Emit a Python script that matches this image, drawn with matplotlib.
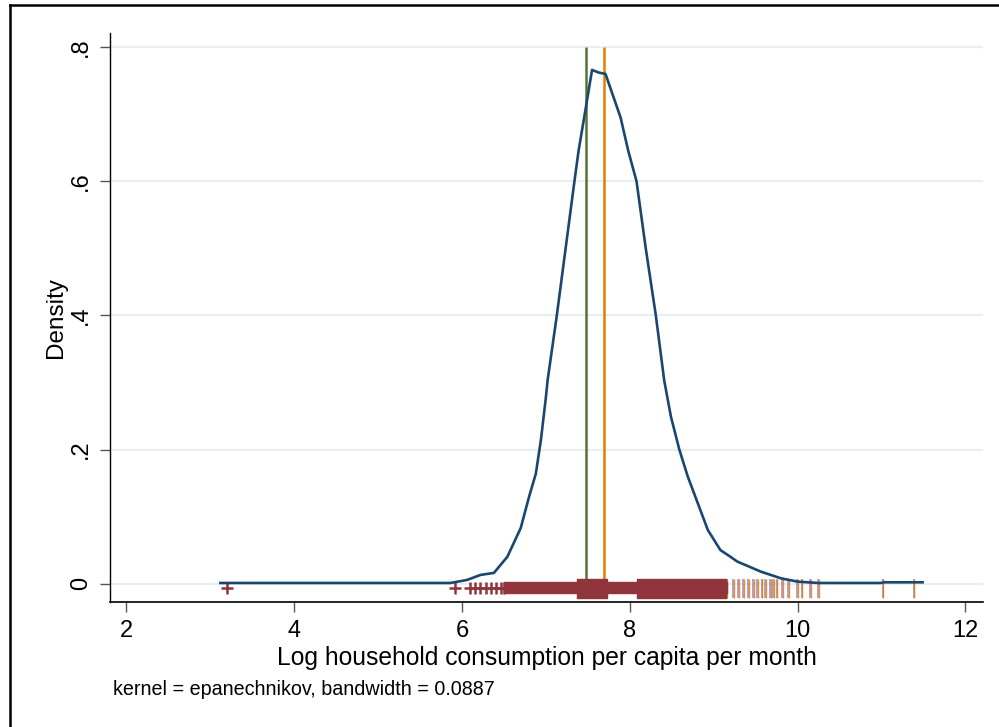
import numpy as np
import matplotlib.pyplot as plt
from matplotlib.lines import Line2D

plt.rcParams['font.family'] = ['Liberation Sans', 'DejaVu Sans']

# kernel density estimate
kd_x = [3.12, 5.86, 6.06, 6.22, 6.38, 6.54, 6.70, 6.80, 6.88, 6.94, 7.00, 7.02,
        7.13, 7.34, 7.39, 7.46, 7.55, 7.63, 7.71, 7.89, 7.98, 8.08, 8.19, 8.31,
        8.41, 8.49, 8.59, 8.69, 8.81, 8.93, 9.08, 9.20, 9.28, 9.56, 9.80, 10.00,
        10.24, 10.99, 11.03, 11.49]
kd_y = [0.001, 0.001, 0.0055, 0.013, 0.016, 0.040, 0.083, 0.130, 0.164, 0.214, 0.278, 0.303,
        0.400, 0.600, 0.646, 0.698, 0.766, 0.762, 0.760, 0.695, 0.646, 0.600, 0.500, 0.400,
        0.303, 0.249, 0.200, 0.160, 0.120, 0.080, 0.050, 0.040, 0.033, 0.018, 0.008, 0.003,
        0.001, 0.001, 0.002, 0.002]

# reference lines (mean / median)
vline_green = 7.476
vline_orange = 7.695

# rug: isolated plus markers, dense bands and tall tick marks
rug_plus = [3.20, 5.92, 6.10, 6.16, 6.22, 6.28, 6.34, 6.40, 6.46, 6.50]
rug_thin = [(6.50, 9.16)]
rug_thick = [(7.374, 7.731), (8.089, 9.15)]
rug_ticks = [9.163, 9.242, 9.302, 9.362, 9.421, 9.481, 9.522, 9.581, 9.620, 9.680,
             9.720, 9.760, 9.820, 9.899, 9.999, 10.058, 10.157, 10.257, 11.020, 11.390]

xticks = [2, 4, 6, 8, 10, 12]
yticks = [0, 0.2, 0.4, 0.6, 0.8]
ytick_labels = ['0', '.2', '.4', '.6', '.8']

navy = '#1a476f'
maroon = '#90353b'
green = '#55752f'
orange = '#e37e00'
lavender = '#9a86c4'
gridc = '#e8eff1'

fig = plt.figure(figsize=(9.99, 7.27), dpi=100)
fig.patch.set_facecolor('white')
ax = fig.add_axes([0.1101, 0.172, 0.8739, 0.7826])

ax.set_xlim(1.804, 12.21)
ax.set_ylim(-0.0273, 0.821)

for yv in yticks:
    ax.axhline(yv, color=gridc, lw=1.6, zorder=0)

ax.vlines([vline_green], 0, 0.8, color=green, lw=1.8, zorder=2)
ax.vlines([vline_orange], 0, 0.8, color=orange, lw=1.8, zorder=2)

ax.vlines([t - 0.008 for t in rug_ticks], -0.0217, 0.0066, color=lavender, lw=1.1, zorder=3)
ax.vlines(rug_ticks, -0.0217, 0.0066, color=orange, lw=1.0, alpha=0.85, zorder=3)
ax.broken_barh([(a, b - a) for a, b in rug_thin], (-0.0143, 0.0163), color=maroon, zorder=4)
ax.broken_barh([(a, b - a) for a, b in rug_thick], (-0.0217, 0.0283), color=maroon, zorder=4)
ax.plot(rug_plus, [-0.006] * len(rug_plus), ls='none', marker='+', ms=9,
        mew=1.8, color=maroon, zorder=4)

ax.plot(kd_x, kd_y, color=navy, lw=1.9, zorder=5)

for s in ['top', 'right']:
    ax.spines[s].set_visible(False)
ax.spines['left'].set_linewidth(1.0)
ax.spines['bottom'].set_linewidth(1.2)

ax.set_xticks(xticks)
ax.set_xticklabels([str(v) for v in xticks])
ax.set_yticks(yticks)
ax.set_yticklabels(ytick_labels, rotation=90, va='center')
ax.tick_params(axis='both', length=7, width=1, color='#555555', labelsize=17)
ax.tick_params(axis='x', pad=6)
ax.tick_params(axis='y', pad=6)

ax.set_xlabel('Log household consumption per capita per month', fontsize=17.7, labelpad=3)
ax.set_ylabel('Density', fontsize=17.5, labelpad=2)

fig.text(0.113, 0.051, 'kernel = epanechnikov, bandwidth = 0.0887', fontsize=14.2,
         ha='left', va='center')

# outer frame
fig.add_artist(Line2D([0.010, 1.0], [0.993, 0.993], transform=fig.transFigure, color='black', lw=1.8))
fig.add_artist(Line2D([0.010, 0.010], [0.0, 0.993], transform=fig.transFigure, color='black', lw=1.8))

fig.savefig('out.png', dpi=100)
